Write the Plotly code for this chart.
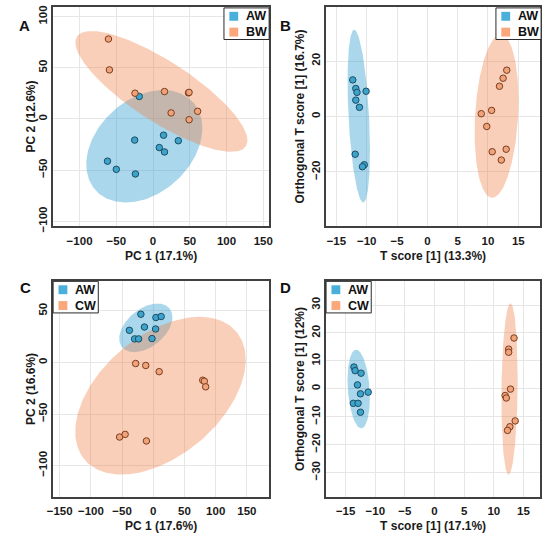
import numpy as np
import plotly.graph_objects as go
from plotly.subplots import make_subplots

# Panel A - PCA scores, AW vs BW
a_aw_x = [-18.8, -25.0, 14.3, 34.4, 8.5, 15.6, -62.0, -50.0, -24.0]
a_aw_y = [22.0, -20.7, -15.9, -21.3, -28.0, -32.3, -41.3, -49.3, -53.8]
a_bw_x = [-60.7, -59.4, -24.6, 15.6, 48.2, 49.0, 24.6, 60.7, 49.1]
a_bw_y = [78.2, 48.0, 25.2, 26.8, 25.5, 26.0, 5.9, 7.5, -0.8]

# Panel B - OPLS-DA scores, AW vs BW
b_aw_x = [-12.3, -11.8, -11.6, -10.1, -11.8, -11.2, -11.9, -10.4, -10.7]
b_aw_y = [13.2, 10.1, 8.7, 9.1, 5.9, 3.3, -13.6, -17.4, -18.1]
b_bw_x = [13.1, 12.5, 11.9, 10.6, 8.9, 9.8, 10.7, 13.0, 12.2]
b_bw_y = [16.7, 13.8, 10.9, 2.2, 1.0, -3.6, -12.7, -11.8, -15.7]

# Panel C - PCA scores, AW vs CW
c_aw_x = [-19.9, 4.2, 12.6, -38.3, -14.2, 3.7, -29.9, -23.6, -2.1]
c_aw_y = [46.8, 43.6, 44.6, 31.2, 34.4, 32.5, 22.9, 22.9, 23.2]
c_cw_x = [-28.3, -12.1, 9.4, 79.2, 81.8, 83.9, -54.0, -45.1, -11.0]
c_cw_y = [-1.0, -2.9, -8.9, -17.2, -18.2, -23.6, -72.3, -69.7, -76.1]

# Panel D - OPLS-DA scores, AW vs CW
d_aw_x = [-13.6, -13.4, -12.4, -13.0, -12.5, -11.2, -13.7, -12.9, -12.5]
d_aw_y = [7.8, 6.5, 5.6, 1.4, -1.8, -1.2, -5.2, -5.2, -8.4]
d_cw_x = [13.4, 12.5, 12.5, 12.8, 11.9, 12.1, 13.6, 12.7, 12.3]
d_cw_y = [18.2, 14.2, 13.1, -0.1, -2.4, -3.3, -11.5, -13.6, -14.9]

x_titles = ["PC 1 (17.1%)", "T score [1] (13.3%)", "PC 1 (17.6%)", "T score [1] (17.1%)"]
y_titles = ["PC 2 (12.6%)", "Orthogonal T score [1] (16.7%)",
            "PC 2 (16.6%)", "Orthogonal T score [1] (12%)"]
group_names = [("AW", "BW"), ("AW", "BW"), ("AW", "CW"), ("AW", "CW")]

BLUE_PT, BLUE_EDGE, BLUE_FILL, BLUE_KEY = "#3CA3CC", "#1D4C60", "rgba(43,155,205,0.4)", "#4AB0DA"
ORNG_PT, ORNG_EDGE, ORNG_FILL, ORNG_KEY = "#F0A37B", "#7A3E1E", "rgba(240,130,70,0.38)", "#F9A77B"
FONT = "Liberation Sans, Arial, sans-serif"
W, H = 550, 544


def conf_ellipse(x, y, n=240):
    # 95% confidence ellipse (chi-square, 2 dof) from the group covariance
    x = np.asarray(x, dtype=float)
    y = np.asarray(y, dtype=float)
    k = np.sqrt(5.991)
    sx, sy = x.std(ddof=1), y.std(ddof=1)
    r = np.corrcoef(x, y)[0, 1]
    t = np.linspace(0, 2 * np.pi, n)
    ex = x.mean() + k * sx * np.cos(t)
    ey = y.mean() + k * sy * (r * np.cos(t) + np.sqrt(1 - r * r) * np.sin(t))
    return ex, ey


fig = make_subplots(rows=2, cols=2)

panels = [
    (1, 1, a_aw_x, a_aw_y, a_bw_x, a_bw_y),
    (1, 2, b_aw_x, b_aw_y, b_bw_x, b_bw_y),
    (2, 1, c_aw_x, c_aw_y, c_cw_x, c_cw_y),
    (2, 2, d_aw_x, d_aw_y, d_cw_x, d_cw_y),
]

for row, col, gx1, gy1, gx2, gy2 in panels:
    for gx, gy, fill in [(gx1, gy1, BLUE_FILL), (gx2, gy2, ORNG_FILL)]:
        ex, ey = conf_ellipse(gx, gy)
        fig.add_trace(go.Scatter(x=ex, y=ey, mode="lines", fill="toself",
                                 fillcolor=fill, line=dict(width=0),
                                 hoverinfo="skip", showlegend=False), row=row, col=col)
    fig.add_trace(go.Scatter(x=gx1, y=gy1, mode="markers", showlegend=False,
                             marker=dict(size=6.5, color=BLUE_PT, line=dict(color=BLUE_EDGE, width=1))),
                  row=row, col=col)
    fig.add_trace(go.Scatter(x=gx2, y=gy2, mode="markers", showlegend=False,
                             marker=dict(size=6.5, color=ORNG_PT, line=dict(color=ORNG_EDGE, width=1))),
                  row=row, col=col)

x_dom = [[48 / W, 268 / W], [326 / W, 544 / W]]
y_dom = [[1 - 228 / H, 1 - 6 / H], [1 - 502 / H, 1 - 284 / H]]

x_ranges = [[-136, 158], [-16.7, 18.6], [-160.5, 185.6], [-18.3, 17.8]]
y_ranges = [[-104.8, 109.6], [-39.5, 39.5], [-130, 78.7], [-38.6, 38.5]]
x_dticks = [50, 5, 50, 5]
y_dticks = [50, 20, 50, 10]

axis_common = dict(showgrid=True, gridcolor="#E6E6E6", gridwidth=1, zeroline=False,
                   showline=True, mirror=True, linecolor="#404040", linewidth=1.5,
                   tickfont=dict(family=FONT, size=11.5, color="#1A1A1A", weight="bold"))

for i, (row, col) in enumerate([(1, 1), (1, 2), (2, 1), (2, 2)]):
    fig.update_xaxes(domain=x_dom[col - 1], range=x_ranges[i], dtick=x_dticks[i], tick0=0,
                     ticks="outside", ticklen=3, tickcolor="rgba(0,0,0,0)",
                     title=dict(text=x_titles[i], standoff=6,
                                font=dict(family=FONT, size=12, color="#1A1A1A", weight="bold")),
                     **axis_common, row=row, col=col)
    fig.update_yaxes(domain=y_dom[row - 1], range=y_ranges[i], dtick=y_dticks[i], tick0=0,
                     tickangle=-90, ticks="", **axis_common, row=row, col=col)

# y-axis titles (pixel x of the text centre, panel row)
for text, px, row in zip(y_titles, [25.5, 299.5, 25.5, 299.5], [1, 1, 2, 2]):
    y0, y1 = y_dom[row - 1]
    fig.add_annotation(text=text, x=px / W, y=(y0 + y1) / 2, xref="paper", yref="paper",
                       textangle=-90, showarrow=False, xanchor="center", yanchor="middle",
                       font=dict(family=FONT, size=12, color="#1A1A1A", weight="bold"))

# legend boxes drawn by hand (pixel boxes: left, top)
legend_boxes = [(222, 7), (499, 7), (48, 284), (326, 284)]
box_w, box_h = 46, 32
for (bx, by), (n1, n2) in zip(legend_boxes, group_names):
    fig.add_shape(type="rect", xref="paper", yref="paper",
                  x0=bx / W, x1=(bx + box_w) / W, y0=1 - (by + box_h) / H, y1=1 - by / H,
                  line=dict(color="#2A2A2A", width=1), fillcolor="white", layer="above")
    for j, (name, key) in enumerate([(n1, BLUE_KEY), (n2, ORNG_KEY)]):
        cy = by + 8.5 + 16 * j
        fig.add_shape(type="rect", xref="paper", yref="paper",
                      x0=(bx + 5.5) / W, x1=(bx + 14.5) / W,
                      y0=1 - (cy + 4.5) / H, y1=1 - (cy - 4.5) / H,
                      line=dict(width=0), fillcolor=key, layer="above")
        fig.add_annotation(text=name, x=(bx + 20) / W, y=1 - cy / H, xref="paper", yref="paper",
                           xanchor="left", yanchor="middle", showarrow=False,
                           font=dict(family=FONT, size=12.5, color="#111111", weight="bold"))

# panel letters
for letter, px, py in [("A", 11, 14), ("B", 285, 14), ("C", 12, 290), ("D", 285, 290)]:
    fig.add_annotation(text=letter, x=px / W, y=1 - py / H, xref="paper", yref="paper",
                       showarrow=False, font=dict(family=FONT, size=15, color="#111111", weight="bold"))

fig.update_layout(width=W, height=H, margin=dict(l=0, r=0, t=0, b=0),
                  paper_bgcolor="white", plot_bgcolor="white", showlegend=False)

fig.write_html("out.html", config={"displayModeBar": False},
               post_script="document.body.style.margin='0';")
